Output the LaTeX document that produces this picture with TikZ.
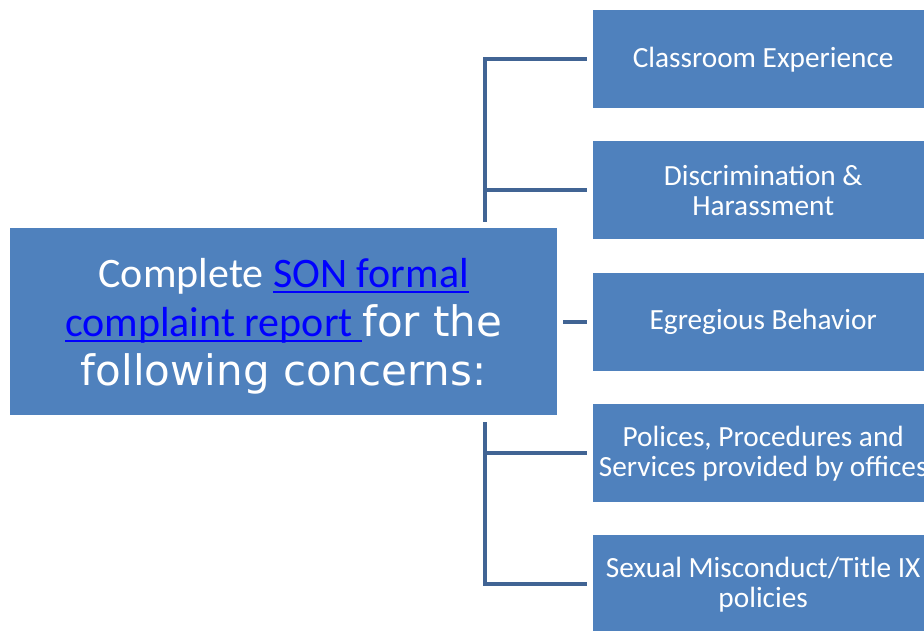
\documentclass[tikz,border=0pt]{standalone}
\usepackage{fontspec}
\setmainfont{Carlito}
\newfontfamily\dejavu{DejaVu Sans}
\definecolor{boxblue}{RGB}{79,129,189}
\definecolor{lineblue}{RGB}{65,100,148}
\definecolor{linkblue}{RGB}{0,0,255}
\tikzset{
  mainbox/.style={fill=boxblue, draw=none, anchor=north west, minimum width=547pt, minimum height=187pt, inner sep=0pt, text=white, align=center, font=\fontsize{42}{49}\selectfont},
  itembox/.style={fill=boxblue, draw=none, anchor=north west, minimum width=340pt, minimum height=98pt, inner sep=0pt, text=white, align=center, font=\fontsize{29.3}{30}\selectfont},
  conn/.style={draw=lineblue, line width=4.5pt, line join=miter}
}
\newcommand{\lnk}[1]{\textcolor{linkblue}{\setbox0\hbox{#1}\rlap{\rule[-6pt]{\wd0}{2.2pt}}\box0}}
\begin{document}
\begin{tikzpicture}[x=1pt,y=-1pt]
\useasboundingbox (0,0) rectangle (924,631);
\clip (0,0) rectangle (924,631);
\node[mainbox] (main) at (10,228) {\rule{0pt}{38pt}Complete \lnk{SON formal}\\\lnk{complaint report }{\dejavu for the}\\{\dejavu following concerns:}};
\node[itembox] (b1) at (593,10) {Classroom Experience};
\node[itembox] (b2) at (593,141) {Discrimination \&\\Harassment};
\node[itembox] (b3) at (593,273) {Egregious Behavior};
\node[itembox] (b4) at (593,404) {Polices, Procedures and\\Services provided by offices};
\node[itembox] (b5) at (593,535) {Sexual Misconduct/Title IX\\policies};
\coordinate (ta) at (485,222);
\coordinate (ba) at (485,422);
\draw[conn] (ta) |- ([xshift=-6pt]b1.west);
\draw[conn] (ta) |- ([xshift=-6pt]b2.west);
\draw[conn] ([xshift=6pt]main.east |- b3.west) -- ([xshift=-6pt]b3.west);
\draw[conn] (ba) |- ([xshift=-6pt]b4.west);
\draw[conn] (ba) |- ([xshift=-6pt]b5.west);
\end{tikzpicture}
\end{document}
